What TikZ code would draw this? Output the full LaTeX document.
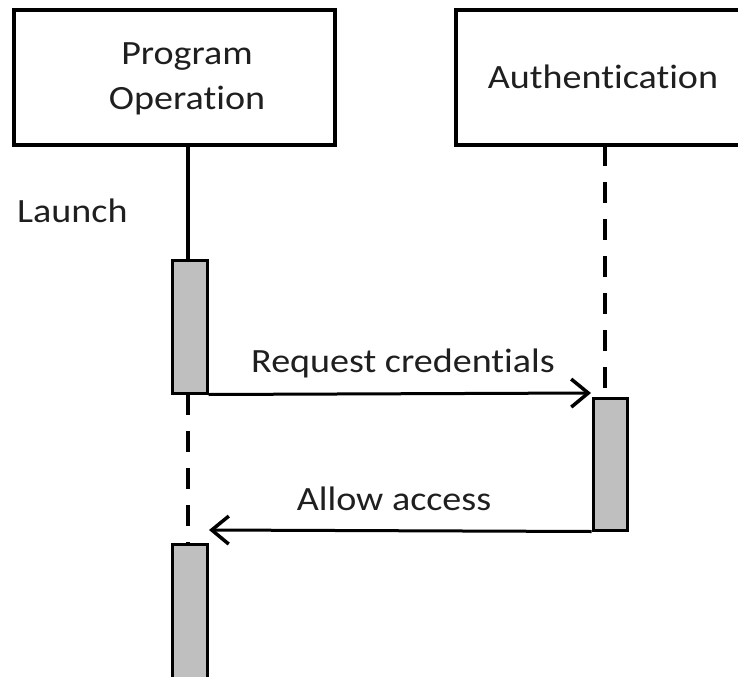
\documentclass[tikz,border=0pt]{standalone}
\usepackage{fontspec}
\setmainfont[FakeStretch=1.12, RawFeature={-liga;-dlig;-clig}]{Carlito}
\usetikzlibrary{arrows.meta}
\tikzset{
  lbl/.style={inner sep=0pt, anchor=base, text=black!88, font=\fontsize{34bp}{40bp}\selectfont},
  headbox/.style={draw, line width=3.5bp, minimum width=#1, minimum height=135bp, inner sep=0pt},
  actbar/.style={draw, fill=gray!50, line width=3bp, minimum width=34bp, inner sep=0pt},
  solidlife/.style={line width=3.5bp},
  dashlife/.style={line width=3.5bp, dash pattern=on 21bp off 16bp},
  msg/.style={line width=3bp, -{Straight Barb[length=17bp,width=28bp,line width=3.5bp]}}
}
\begin{document}
\begin{tikzpicture}[x=1bp,y=-1bp]
\useasboundingbox (0,0) rectangle (738,677);
\clip (0,0) rectangle (738,677);
% header boxes
\node[headbox=321bp] (po) at (174.5,77.5) {};
\node[headbox=300bp] (au) at (606,77.5) {};
\node[lbl] (poA) at (187,65) {Program};
\node[lbl] (poB) at (187,110) {Operation};
\node[lbl] (auT) at (603,89) {Authentication};
\node[lbl, anchor=base west] (launch) at (17,222) {Launch};
% activation bars
\node[actbar, minimum width=35bp, minimum height=133bp] (b1) at (189.5,326.5) {};
\node[actbar, minimum height=132bp] (b2) at (610,464) {};
\node[actbar, minimum width=35bp, minimum height=150bp] (b3) at (189.5,619) {};
% lifelines
\coordinate (l1top) at (188,145);
\coordinate (l1a) at (188,260);
\coordinate (l1b) at (188,394);
\coordinate (l1c) at (188,544);
\coordinate (l2top) at (605,145);
\coordinate (l2b) at (605,397);
\draw[solidlife] (l1top) -- (l1a);
\draw[dashlife] (l1b) -- (l1c);
\draw[dashlife] (l2top) -- (l2b);
% messages
\coordinate (m1end) at (591,393);
\coordinate (m2end) at (209,530);
\draw[msg] (b1.south east) -- (m1end);
\draw[msg] (b2.south west) -- (m2end);
\node[lbl] (m1) at (403,372) {Request credentials};
\node[lbl] (m2) at (394,510) {Allow access};
\end{tikzpicture}
\end{document}
